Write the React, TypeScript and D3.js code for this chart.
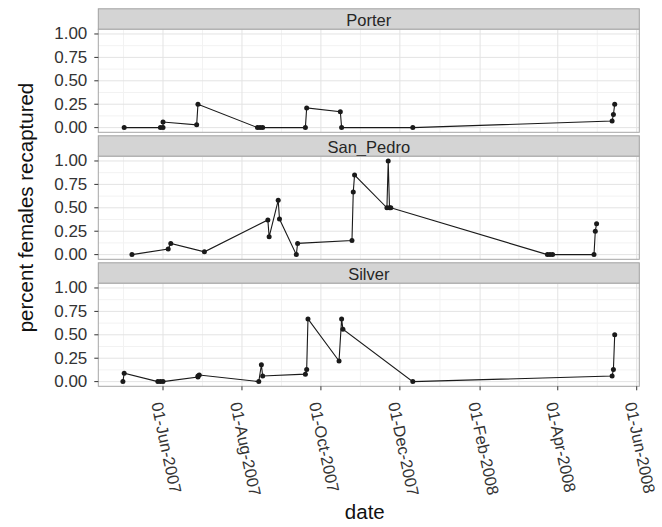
import React from "react";
import * as d3 from "d3";

// ---------- data ----------
const sites = ["Porter", "San_Pedro", "Silver"];

const porterDates = ["2007-05-02", "2007-05-30", "2007-06-01", "2007-06-01", "2007-06-27", "2007-06-28", "2007-08-13", "2007-08-15", "2007-08-17", "2007-09-19", "2007-09-20", "2007-10-16", "2007-10-17", "2007-12-11", "2008-05-13", "2008-05-14", "2008-05-15"];
const porterValues = [0, 0, 0, 0.06, 0.03, 0.25, 0, 0, 0, 0, 0.21, 0.17, 0, 0, 0.07, 0.14, 0.25];

const sanPedroDates = ["2007-05-08", "2007-06-05", "2007-06-07", "2007-07-03", "2007-08-21", "2007-08-22", "2007-08-29", "2007-08-30", "2007-09-12", "2007-09-13", "2007-10-25", "2007-10-26", "2007-10-27", "2007-11-21", "2007-11-22", "2007-11-23", "2007-11-24", "2008-03-24", "2008-03-26", "2008-03-28", "2008-04-29", "2008-04-30", "2008-05-01"];
const sanPedroValues = [0, 0.06, 0.12, 0.03, 0.37, 0.19, 0.58, 0.38, 0, 0.12, 0.15, 0.67, 0.85, 0.5, 1.0, 0.5, 0.5, 0, 0, 0, 0, 0.25, 0.33];

const silverDates = ["2007-05-01", "2007-05-02", "2007-05-28", "2007-05-30", "2007-06-01", "2007-06-28", "2007-06-28", "2007-06-29", "2007-08-14", "2007-08-16", "2007-08-17", "2007-09-19", "2007-09-20", "2007-09-21", "2007-10-15", "2007-10-17", "2007-10-18", "2007-12-11", "2008-05-13", "2008-05-14", "2008-05-15"];
const silverValues = [0, 0.09, 0, 0, 0, 0.05, 0.06, 0.07, 0, 0.18, 0.06, 0.08, 0.13, 0.67, 0.22, 0.67, 0.56, 0, 0.06, 0.13, 0.5];

const yTicks = [0, 0.25, 0.5, 0.75, 1.0];
const yMinor = [0.125, 0.375, 0.625, 0.875];
const firstMajorTick = "2007-06-01";
const xTitle = "date";
const yTitle = "percent females recaptured";

// ---------- layout ----------
const W = 662;
const H = 527;
const panelLeft = 98.3;
const panelRight = 639.3;
const stripTop0 = 8.8;
const stripH = 20.5;
const plotH = 103;
const pitch = 127;
const FONT = "'Liberation Sans', Arial, Helvetica, sans-serif";

const parse = d3.utcParse("%Y-%m-%d");
const fmt = d3.utcFormat("%d-%b-%Y");

type Pt = { date: Date; value: number };

const seriesBySite: Pt[][] = [
  porterDates.map((d, i) => ({ date: parse(d) as Date, value: porterValues[i] })),
  sanPedroDates.map((d, i) => ({ date: parse(d) as Date, value: sanPedroValues[i] })),
  silverDates.map((d, i) => ({ date: parse(d) as Date, value: silverValues[i] })),
];

export default function App() {
  const all = seriesBySite.flat();
  const [minD, maxD] = d3.extent(all, (d) => d.date) as [Date, Date];
  const span = +maxD - +minD;
  const x = d3
    .scaleUtc()
    .domain([new Date(+minD - span * 0.05), new Date(+maxD + span * 0.05)])
    .range([panelLeft, panelRight]);
  const dom = x.domain();

  const start = parse(firstMajorTick) as Date;
  const majors = d3.utcMonth.range(start, new Date(+dom[1] + 1), 2);
  const before = d3.utcMonth.offset(start, -2);
  const ext = [before, ...majors, d3.utcMonth.offset(majors[majors.length - 1], 2)];
  const minors: Date[] = [];
  for (let i = 0; i < ext.length - 1; i++) {
    const m = new Date((+ext[i] + +ext[i + 1]) / 2);
    if (m >= dom[0] && m <= dom[1]) minors.push(m);
  }

  const bottomY = stripTop0 + 2 * pitch + stripH + plotH;

  return (
    <svg
      width={W}
      height={H}
      style={{ position: "absolute", left: 0, top: 0, background: "#fff" }}
      fontFamily={FONT}
    >
      <rect x={0} y={0} width={W} height={H} fill="#fff" />
      {sites.map((site, si) => {
        const st = stripTop0 + si * pitch;
        const pt = st + stripH;
        const y = d3.scaleLinear().domain([-0.05, 1.05]).range([pt + plotH, pt]);
        const line = d3
          .line<Pt>()
          .x((d) => x(d.date))
          .y((d) => y(d.value));
        const data = seriesBySite[si];
        return (
          <g key={site}>
            <rect x={panelLeft} y={st} width={panelRight - panelLeft} height={stripH} fill="#d4d4d4" stroke="#a0a0a0" strokeWidth={1} />
            <text
              x={(panelLeft + panelRight) / 2}
              y={st + stripH / 2 + 0.5}
              textAnchor="middle"
              dominantBaseline="central"
              fontSize={16.5}
              fill="#262626"
            >
              {site}
            </text>
            <rect x={panelLeft} y={pt} width={panelRight - panelLeft} height={plotH} fill="#fff" />
            {yMinor.map((v) => (
              <line key={"ym" + v} x1={panelLeft} x2={panelRight} y1={y(v)} y2={y(v)} stroke="#f2f2f2" strokeWidth={1} />
            ))}
            {minors.map((d) => (
              <line key={"xm" + +d} x1={x(d)} x2={x(d)} y1={pt} y2={pt + plotH} stroke="#f2f2f2" strokeWidth={1} />
            ))}
            {yTicks.map((v) => (
              <line key={"yM" + v} x1={panelLeft} x2={panelRight} y1={y(v)} y2={y(v)} stroke="#e3e3e3" strokeWidth={1} />
            ))}
            {majors.map((d) => (
              <line key={"xM" + +d} x1={x(d)} x2={x(d)} y1={pt} y2={pt + plotH} stroke="#e3e3e3" strokeWidth={1} />
            ))}
            <path d={line(data) || ""} fill="none" stroke="#1a1a1a" strokeWidth={1.1} />
            {data.map((d, i) => (
              <circle key={i} cx={x(d.date)} cy={y(d.value)} r={2.5} fill="#1a1a1a" />
            ))}
            <rect x={panelLeft} y={pt} width={panelRight - panelLeft} height={plotH} fill="none" stroke="#a6a6a6" strokeWidth={1} />
            {yTicks.map((v) => (
              <g key={"yt" + v}>
                <line x1={panelLeft - 4} x2={panelLeft} y1={y(v)} y2={y(v)} stroke="#333" strokeWidth={1} />
                <text
                  x={panelLeft - 11}
                  y={y(v)}
                  textAnchor="end"
                  dominantBaseline="central"
                  fontSize={17}
                  fill="#333"
                >
                  {d3.format(".2f")(v)}
                </text>
              </g>
            ))}
          </g>
        );
      })}
      {majors.map((d) => (
        <g key={"xt" + +d}>
          <line x1={x(d)} x2={x(d)} y1={bottomY} y2={bottomY + 4} stroke="#333" strokeWidth={1} />
          <text
            transform={`translate(${x(d) - 6},${bottomY + 16}) rotate(78)`}
            textAnchor="start"
            dominantBaseline="central"
            fontSize={16.5}
            fill="#333"
          >
            {fmt(d)}
          </text>
        </g>
      ))}
      <text x={(panelLeft + panelRight) / 2 - 4} y={519} textAnchor="middle" fontSize={20.5} fill="#111">
        {xTitle}
      </text>
      <text
        transform={`translate(33,207.5) rotate(-90)`}
        textAnchor="middle"
        fontSize={20.5}
        fill="#111"
      >
        {yTitle}
      </text>
    </svg>
  );
}
